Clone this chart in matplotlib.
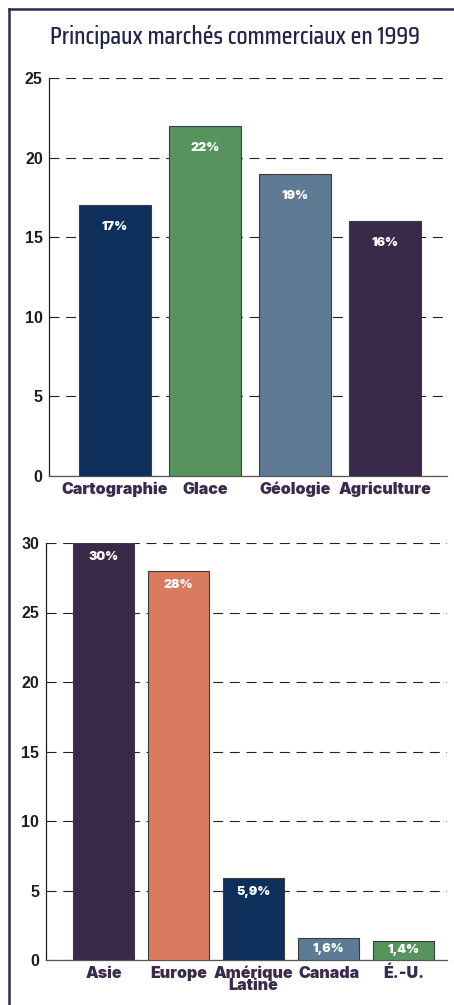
import matplotlib
matplotlib.use("Agg")
import matplotlib.pyplot as plt
from matplotlib import font_manager
from matplotlib.font_manager import FontProperties
from matplotlib.lines import Line2D

# --- data -------------------------------------------------------------
title = "Principaux marchés commerciaux en 1999"

sectors = ["Cartographie", "Glace", "Géologie", "Agriculture"]
sector_share = [17, 22, 19, 16]
sector_labels = ["17%", "22%", "19%", "16%"]
sector_ticks = [0, 5, 10, 15, 20, 25]

regions = ["Asie", "Europe", "Amérique\nLatine", "Canada", "É.-U."]
region_share = [30, 28, 5.9, 1.6, 1.4]
region_labels = ["30%", "28%", "5,9%", "1,6%", "1,4%"]
region_ticks = [0, 5, 10, 15, 20, 25, 30]

# --- style ------------------------------------------------------------
NAVY = "#0c2f5b"
GREEN = "#56935f"
SLATE = "#5e7a94"
PLUM = "#3a2a4a"
SALMON = "#d97b5f"
FRAME = "#2b2b55"
LABEL = "#3a2b4c"

sector_colors = [NAVY, GREEN, SLATE, PLUM]
region_colors = [PLUM, SALMON, NAVY, SLATE, GREEN]

STRETCH = {"ultra-condensed": 100, "extra-condensed": 200, "condensed": 300,
           "semi-condensed": 400, "normal": 500}

W, H = 454, 1005
TITLE_W = 373  # header width in pixels
fig = plt.figure(figsize=(W / 100, H / 100), dpi=100)
fig.patch.set_facecolor("white")
renderer = fig.canvas.get_renderer()


def _w(f):
    return f.weight if isinstance(f.weight, int) else \
        {"black": 900, "heavy": 800, "extra bold": 800, "semibold": 600,
         "medium": 500, "bold": 700}.get(str(f.weight), 400)


def _s(f):
    return f.stretch if isinstance(f.stretch, int) else STRETCH.get(str(f.stretch), 500)


def find_heavy():
    best = None
    for f in font_manager.fontManager.ttflist:
        if f.style != "normal" or _s(f) != 500:
            continue
        if f.name not in ("Lato", "Roboto", "Inter", "Open Sans", "Noto Sans"):
            continue
        if best is None or _w(f) > _w(best):
            best = f
    if best is not None and _w(best) >= 800:
        return FontProperties(fname=best.fname)
    return FontProperties(family="DejaVu Sans", weight="bold")


def find_title_font():
    """Narrow face whose 18 pt setting of the title best fills the header."""
    best, best_score = None, None
    for f in font_manager.fontManager.ttflist:
        low = f.fname.lower()
        narrow = _s(f) < 500 or "condensed" in low or "narrow" in low
        if not narrow or f.style != "normal" or not 400 <= _w(f) <= 600:
            continue
        fp = FontProperties(fname=f.fname, size=18)
        width = renderer.get_text_width_height_descent(title, fp, ismath=False)[0]
        score = abs(width - TITLE_W) + 0.05 * abs(_w(f) - 500)
        if best_score is None or score < best_score:
            best, best_score = fp, score
    return best or FontProperties(family="Liberation Sans", size=18)


heavy_fp = find_heavy()
tfp = find_title_font()

# page frame along the left and top edges
fig.add_artist(Line2D([9 / W, 9 / W], [0, 1 - 9 / H], color=FRAME, lw=1.8,
                      transform=fig.transFigure))
fig.add_artist(Line2D([9 / W, 1], [1 - 9 / H, 1 - 9 / H], color=FRAME, lw=1.8,
                      transform=fig.transFigure))

# title, sized so that it spans the width of the header
ttl = fig.text(235 / W, 1 - 37 / H, title, ha="center", va="center",
               color="#23244b", fontproperties=tfp)
span = ttl.get_window_extent(renderer).width
if span > TITLE_W:
    tfp = tfp.copy()
    tfp.set_size(tfp.get_size() * TITLE_W / span)
    ttl.set_fontproperties(tfp)


def draw_panel(rect, cats, vals, labels, colors, ticks, xlim, width,
               label_offset, tick_pad):
    ax = fig.add_axes(rect)
    x = list(range(len(cats)))
    bars = ax.bar(x, vals, width=width, color=colors, edgecolor="#3c3c3c",
                  linewidth=0.8, zorder=3)
    ax.set_ylim(0, ticks[-1])
    ax.set_xlim(*xlim)
    ax.set_yticks(ticks)
    ax.set_yticklabels([str(t) for t in ticks], fontsize=11.5,
                       fontweight="bold", family="Liberation Sans",
                       color="#1e1e1e")
    ax.tick_params(axis="y", length=0, pad=tick_pad)
    ax.set_xticks(x)
    cfp = heavy_fp.copy()
    cfp.set_size(11.5)
    ax.set_xticklabels(cats, fontproperties=cfp, color=LABEL, linespacing=0.72)
    ax.tick_params(axis="x", length=0, pad=4)
    for s in ["top", "right"]:
        ax.spines[s].set_visible(False)
    ax.spines["left"].set_color("#222222")
    ax.spines["bottom"].set_color("#555555")
    ax.spines["left"].set_linewidth(0.9)
    ax.spines["bottom"].set_linewidth(0.9)
    ax.yaxis.grid(True, linestyle=(0, (9, 6)), color="#222222",
                  linewidth=0.8, zorder=0)
    ax.set_axisbelow(True)
    # value label placed inside each bar near its top
    vfp = heavy_fp.copy()
    vfp.set_size(9)
    px_per_unit = rect[3] * H / ticks[-1]
    for b, v, t in zip(bars, vals, labels):
        h_px = v * px_per_unit
        off = min(label_offset, h_px / 2)
        ax.annotate(t, (b.get_x() + b.get_width() / 2, v),
                    xytext=(0, -off * 0.72), textcoords="offset points",
                    ha="center", va="center", color="white",
                    fontproperties=vfp, zorder=4)
    return ax


draw_panel([49 / W, 1 - 476 / H, 398 / W, 398 / H],
           sectors, sector_share, sector_labels, sector_colors,
           sector_ticks, (-0.733, 3.69), 0.8, 22, 4.5)

draw_panel([46 / W, 1 - 960 / H, 401 / W, 417 / H],
           regions, region_share, region_labels, region_colors,
           region_ticks, (-0.77, 4.58), 0.81, 14, 5)

fig.savefig("out.png", dpi=100, facecolor="white")
